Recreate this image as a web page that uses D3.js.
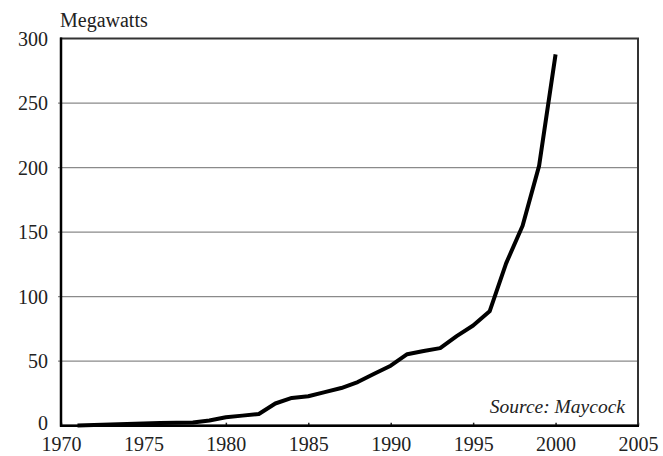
<!DOCTYPE html>
<html><head><meta charset="utf-8">
<script src="https://cdn.jsdelivr.net/npm/d3@7"></script>
<style>
html,body{margin:0;padding:0;background:#fff;}
svg{display:block;}
svg text{font-family:"Liberation Serif","DejaVu Serif","Noto Serif","Tinos","Times New Roman",Times,serif !important;fill:#222;}
</style></head>
<body>
<svg id="chart" width="663" height="456"></svg>
<script>
const years = [1971,1972,1973,1974,1975,1976,1977,1978,1979,1980,1981,1982,1983,1984,1985,1986,1987,1988,1989,1990,1991,1992,1993,1994,1995,1996,1997,1998,1999,2000];
const megawatts = [0.1,0.5,1.0,1.4,1.8,2.0,2.2,2.5,4.0,6.5,7.8,9.1,17.2,21.5,22.8,26.0,29.2,33.8,40.2,46.5,55.4,57.9,60.1,69.4,77.6,88.6,125.8,154.9,201.3,287.7];
const xTicks = [1970,1975,1980,1985,1990,1995,2000,2005];
const yTicks = [0,50,100,150,200,250,300];
const yLabel = "Megawatts";
const sourceNote = "Source: Maycock";

const W = 663, H = 456;
const m = {left:61, right:25, top:38.5, bottom:30.3};
const svg = d3.select("#chart");
const x = d3.scaleLinear().domain([1970,2005]).range([m.left, W-m.right]);
const y = d3.scaleLinear().domain([0,300]).range([H-m.bottom, m.top]);

// gridlines
svg.append("g").selectAll("line").data(yTicks.filter(v=>v>0&&v<300)).join("line")
  .attr("x1", m.left-3).attr("x2", W-m.right)
  .attr("y1", d=>y(d)).attr("y2", d=>y(d))
  .attr("stroke","#8a8a8a").attr("stroke-width",1.2);

// y axis labels
const yAxis = d3.axisLeft(y).tickValues(yTicks).tickSize(0).tickPadding(13).tickFormat(d3.format("d"));
const gy = svg.append("g").attr("transform",`translate(${m.left},0)`).call(yAxis)
  .attr("font-family",null).attr("font-size",null);
gy.select(".domain").remove();
gy.selectAll("text").attr("font-size",20).attr("fill","#222")
  .attr("dy", d => d === 0 ? "0.17em" : "0.34em");

// x axis
const xAxis = d3.axisBottom(x).tickValues(xTicks).tickSize(-3).tickPadding(11.5).tickFormat(d3.format("d"));
const gx = svg.append("g").attr("transform",`translate(0,${H-m.bottom})`).call(xAxis)
  .attr("font-family",null).attr("font-size",null);
gx.select(".domain").remove();
gx.selectAll("line").attr("stroke","#222").attr("stroke-width",1.5);
gx.selectAll("text").attr("font-size",20).attr("fill","#222");

// frame
svg.append("rect").attr("x",m.left).attr("y",m.top)
  .attr("width",W-m.left-m.right).attr("height",H-m.top-m.bottom)
  .attr("fill","none").attr("stroke","#333").attr("stroke-width",2);
svg.append("line").attr("x1",m.left).attr("x2",m.left).attr("y1",m.top-1).attr("y2",H-m.bottom+1)
  .attr("stroke","#000").attr("stroke-width",2.5);
svg.append("line").attr("x1",m.left-1).attr("x2",W-m.right+1).attr("y1",H-m.bottom).attr("y2",H-m.bottom)
  .attr("stroke","#000").attr("stroke-width",2.5);

// line
const line = d3.line().x((d,i)=>x(years[i])).y(d=>y(d));
svg.append("path").datum(megawatts).attr("d",line)
  .attr("fill","none").attr("stroke","#000").attr("stroke-width",4)
  .attr("stroke-linejoin","round").attr("stroke-linecap","butt");

// labels
svg.append("text").attr("x",m.left-1).attr("y",27).attr("font-size",20).text(yLabel);
svg.append("text").attr("x",W-m.right-13).attr("y",H-m.bottom-13).attr("text-anchor","end")
  .attr("font-size",19.5).attr("font-style","italic").text(sourceNote);
</script>
</body></html>
